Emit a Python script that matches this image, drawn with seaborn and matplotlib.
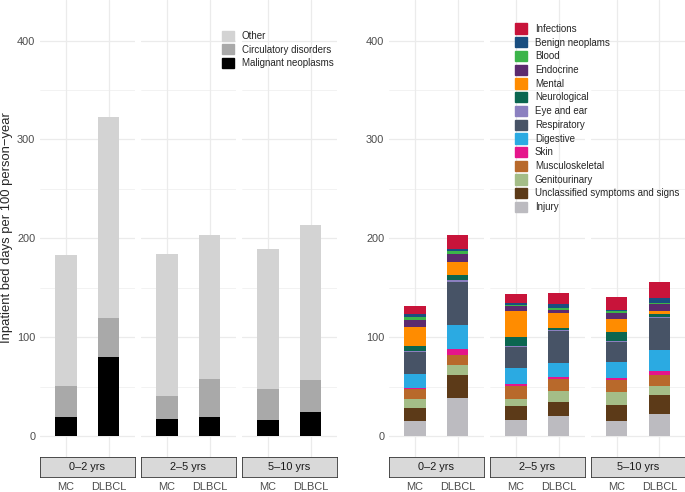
import pandas as pd
import matplotlib.pyplot as plt
import seaborn as sns
from matplotlib.patches import Patch

# Datos (orden de las barras: MC, DLBCL para cada periodo)
periods = ['0–2 yrs', '2–5 yrs', '5–10 yrs']
cohorts = ['MC', 'DLBCL']

# Panel izquierdo: grandes grupos
broad_causes = ['Other', 'Circulatory disorders', 'Malignant neoplasms']
other = [132, 203.5, 143.5, 145.5, 141, 156.5]
circulatory = [32, 39.5, 24, 38, 32, 33]
malignant = [19, 80, 17, 19.5, 16, 24]
broad_colors = ['#D3D3D3', '#A9A9A9', '#000000']

# Panel derecho: causas detalladas
detail_causes = ['Infections', 'Benign neoplams', 'Blood', 'Endocrine', 'Mental',
                 'Neurological', 'Eye and ear', 'Respiratory', 'Digestive', 'Skin',
                 'Musculoskeletal', 'Genitourinary', 'Unclassified symptoms and signs',
                 'Injury']
infections = [8.4, 14.1, 9.1, 11.1, 13.1, 16.8]
benign = [2.7, 2.7, 1.7, 4.4, 1.3, 4.4]
blood = [2.7, 2.4, 1.7, 2.0, 2.4, 1.7]
endocrine = [7.4, 8.4, 5.0, 3.4, 6.1, 6.4]
mental = [19.2, 13.5, 25.9, 14.5, 12.5, 3.4]
neurological = [5.7, 5.0, 9.4, 2.4, 9.8, 2.7]
eye_ear = [0.5, 1.7, 0.7, 1.0, 0.7, 0.7]
respiratory = [22.2, 43.8, 20.9, 32.0, 20.5, 32.7]
digestive = [13.8, 23.9, 16.2, 14.5, 15.8, 21.5]
skin = [1.7, 6.4, 2.4, 2.0, 2.0, 4.4]
musculoskeletal = [10.1, 9.4, 12.8, 12.5, 11.8, 10.8]
genitourinary = [9.1, 10.8, 7.4, 11.1, 13.1, 8.8]
unclassified = [13.1, 23.2, 13.8, 13.8, 16.5, 19.2]
injury = [15.2, 38.4, 16.8, 20.5, 15.5, 22.6]
detail_colors = ['#C8143A', '#1A4E80', '#3CB44A', '#5C2A6E', '#FF8C00', '#0B6650',
                 '#8B80C0', '#475366', '#2BAAE2', '#E5158B', '#B8692B', '#A4BD87',
                 '#5C3A18', '#BCBBC0']


def to_long(causes, series):
    rows = []
    for cause, vals in zip(causes, series):
        i = 0
        for p in periods:
            for c in cohorts:
                rows.append({'period': p, 'cohort': c, 'cause': cause, 'value': vals[i]})
                i += 1
    return pd.DataFrame(rows)


df_broad = to_long(broad_causes, [other, circulatory, malignant])
df_detail = to_long(detail_causes, [infections, benign, blood, endocrine, mental,
                                    neurological, eye_ear, respiratory, digestive, skin,
                                    musculoskeletal, genitourinary, unclassified, injury])

sns.set_style('white')
plt.rcParams['font.family'] = ['Liberation Sans', 'DejaVu Sans']

W, H = 685, 492
fig = plt.figure(figsize=(W / 100, H / 100), dpi=100)


def box(x0, x1, y0, y1):
    # coordenadas en pixeles desde arriba a la izquierda
    return [x0 / W, 1 - y1 / H, (x1 - x0) / W, (y1 - y0) / H]


def draw_panel(df, causes, colors, xs):
    pal = dict(zip(causes, colors))
    for k, (period, (x0, x1)) in enumerate(zip(periods, xs)):
        ax = fig.add_axes(box(x0, x1, 0, 457))
        sub = df[df['period'] == period]
        sns.histplot(data=sub, x='cohort', weights='value', hue='cause', hue_order=causes,
                     palette=pal, multiple='stack', discrete=True, shrink=0.5, alpha=1,
                     linewidth=0, edgecolor='none', legend=False, ax=ax)
        ax.set_xlim(-0.6, 1.6)
        ax.set_ylim(-21, 441)
        ax.set_xticks([0, 1])
        ax.set_xticklabels(cohorts)
        ax.set_yticks([0, 100, 200, 300, 400])
        ax.set_yticks([50, 150, 250, 350], minor=True)
        ax.grid(True, which='major', color='#EBEBEB', lw=0.9)
        ax.grid(True, which='minor', axis='y', color='#EBEBEB', lw=0.45)
        ax.set_axisbelow(True)
        for s in ax.spines.values():
            s.set_visible(False)
        ax.spines['bottom'].set_position(('outward', 15))
        ax.tick_params(axis='x', length=2.2, width=0.6, color='#333333', labelsize=7.9,
                       labelcolor='#4D4D4D', pad=1.0)
        ax.tick_params(axis='y', which='major', length=2.2, width=0.6, color='#333333',
                       labelsize=7.9, labelcolor='#4D4D4D', pad=1.2)
        ax.tick_params(axis='y', which='minor', length=0)
        if k > 0:
            ax.tick_params(axis='y', which='major', length=0, labelleft=False)
        ax.set_xlabel('')
        ax.set_ylabel('')

        # tira de la faceta
        sax = fig.add_axes(box(x0, x1, 457.3, 477.3))
        sax.set_facecolor('#D9D9D9')
        sax.set_xticks([])
        sax.set_yticks([])
        for s in sax.spines.values():
            s.set_color('#333333')
            s.set_linewidth(0.6)
        sax.text(0.5, 0.5, period, ha='center', va='center', fontsize=7.9,
                 color='#1A1A1A', transform=sax.transAxes)


draw_panel(df_broad, broad_causes, broad_colors,
           [(40, 134.5), (141, 235.5), (242, 336.5)])
draw_panel(df_detail, detail_causes, detail_colors,
           [(389, 483.5), (490, 584.5), (591, 685)])

fig.text(7 / W, 1 - 227.5 / H, 'Inpatient bed days per 100 person−year', rotation=90,
         ha='center', va='center', fontsize=9.4)

# Leyendas
leg_kw = dict(loc='upper left', frameon=False, fontsize=7, handlelength=1.25,
              handleheight=1.25, labelspacing=0.34, handletextpad=0.8, borderpad=0,
              borderaxespad=0)
fig.legend([Patch(color=c) for c in broad_colors], broad_causes,
           bbox_to_anchor=(222 / W, 1 - 30.5 / H), **leg_kw)
fig.legend([Patch(color=c) for c in detail_colors], detail_causes,
           bbox_to_anchor=(515 / W, 1 - 23.5 / H), **leg_kw)

fig.savefig('out.png', dpi=100)
